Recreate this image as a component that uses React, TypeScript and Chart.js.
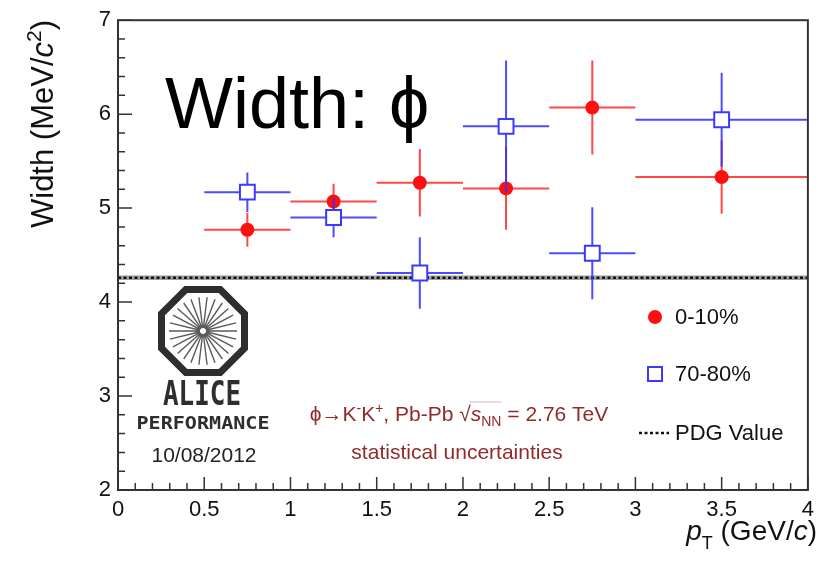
import React, { useEffect, useRef } from "react";
import { Chart, registerables } from "chart.js";

Chart.register(...registerables);

// ---------- data ----------
const binCenters = [0.75, 1.25, 1.75, 2.25, 2.75, 3.5];
const binHalfWidths = [0.25, 0.25, 0.25, 0.25, 0.25, 0.5];
const width0to10 = [4.77, 5.07, 5.27, 5.21, 6.07, 5.33];
const statErr0to10 = [0.18, 0.19, 0.36, 0.44, 0.5, 0.39];
const width70to80 = [5.17, 4.9, 4.31, 5.87, 4.52, 5.94];
const statErr70to80 = [0.21, 0.21, 0.38, 0.7, 0.49, 0.5];
const pdgWidth = 4.26;
const xRange = [0, 4];
const yRange = [2, 7];
const legendLabels = ["0-10%", "70-80%", "PDG Value"];

const SANS = '"Liberation Sans", Arial, Helvetica, sans-serif';
const RED = "#ff1010";
const RED_ERR = "rgba(255,45,45,0.88)";
const BLUE = "#3a3aff";
const BLUE_ERR = "rgba(50,50,255,0.88)";
const TEXT_RED = "#922a2a";

type Run = { text: string; font: string; dy?: number };

function runsWidth(ctx: CanvasRenderingContext2D, runs: Run[]) {
  let w = 0;
  for (const r of runs) {
    ctx.font = r.font;
    w += ctx.measureText(r.text).width;
  }
  return w;
}

function drawRuns(ctx: CanvasRenderingContext2D, runs: Run[], x: number, y: number) {
  let cx = x;
  ctx.textBaseline = "alphabetic";
  ctx.textAlign = "left";
  for (const r of runs) {
    ctx.font = r.font;
    ctx.fillText(r.text, cx, y + (r.dy || 0));
    cx += ctx.measureText(r.text).width;
  }
  return cx;
}

function drawFitted(ctx: CanvasRenderingContext2D, text: string, cx: number, cy: number, w: number, font: string) {
  ctx.save();
  ctx.font = font;
  const m = ctx.measureText(text).width;
  ctx.translate(cx, cy);
  ctx.scale(w / m, 1);
  ctx.textAlign = "center";
  ctx.textBaseline = "middle";
  ctx.fillText(text, 0, 0);
  ctx.restore();
}

const errorBarMap: Record<string, { xe: number[]; ye: number[]; color: string }> = {
  [legendLabels[0]]: { xe: binHalfWidths, ye: statErr0to10, color: RED_ERR },
  [legendLabels[1]]: { xe: binHalfWidths, ye: statErr70to80, color: BLUE_ERR },
};

const errorBarPlugin = {
  id: "errorBars",
  beforeDatasetDraw(chart: any, args: any) {
    const ds = chart.data.datasets[args.index];
    const eb = errorBarMap[ds.label];
    if (!eb) return;
    const { ctx, chartArea, scales } = chart;
    const x = scales.x;
    const y = scales.y;
    ctx.save();
    ctx.beginPath();
    ctx.rect(chartArea.left, chartArea.top, chartArea.right - chartArea.left, chartArea.bottom - chartArea.top);
    ctx.clip();
    ctx.strokeStyle = eb.color;
    ctx.lineWidth = 2;
    ctx.beginPath();
    ds.data.forEach((p: any, i: number) => {
      const px = x.getPixelForValue(p.x);
      const py = y.getPixelForValue(p.y);
      ctx.moveTo(x.getPixelForValue(p.x - eb.xe[i]), py);
      ctx.lineTo(x.getPixelForValue(p.x + eb.xe[i]), py);
      ctx.moveTo(px, y.getPixelForValue(p.y - eb.ye[i]));
      ctx.lineTo(px, y.getPixelForValue(p.y + eb.ye[i]));
    });
    ctx.stroke();
    ctx.restore();
  },
};

const decorPlugin = {
  id: "decor",
  afterDraw(chart: any) {
    const { ctx, chartArea: a, scales } = chart;
    const x = scales.x;
    const y = scales.y;
    ctx.save();

    // frame
    ctx.strokeStyle = "#333";
    ctx.lineWidth = 2;
    ctx.strokeRect(a.left, a.top, a.right - a.left, a.bottom - a.top);

    // inward ticks
    ctx.lineWidth = 1.5;
    ctx.beginPath();
    for (let i = 0; i <= (xRange[1] - xRange[0]) * 10; i++) {
      const v = xRange[0] + i * 0.1;
      const px = x.getPixelForValue(v);
      const major = i % 5 === 0;
      ctx.moveTo(px, a.bottom);
      ctx.lineTo(px, a.bottom - (major ? 13 : 7));
    }
    for (let i = 0; i <= (yRange[1] - yRange[0]) * 5; i++) {
      const v = yRange[0] + i * 0.2;
      const py = y.getPixelForValue(v);
      const major = i % 5 === 0;
      ctx.moveTo(a.left, py);
      ctx.lineTo(a.left + (major ? 14 : 7), py);
    }
    ctx.stroke();

    // big title in plot
    ctx.fillStyle = "#000";
    ctx.font = `72px ${SANS}`;
    ctx.textBaseline = "alphabetic";
    ctx.textAlign = "left";
    ctx.fillText("Width: \u03D5", 165, 128);

    // y axis title (rotated)
    ctx.save();
    ctx.translate(53, 124);
    ctx.rotate(-Math.PI / 2);
    ctx.fillStyle = "#111";
    const yRuns: Run[] = [
      { text: "Width (MeV/", font: `31px ${SANS}` },
      { text: "c", font: `italic 31px ${SANS}` },
      { text: "2", font: `21px ${SANS}`, dy: -12 },
      { text: ")", font: `31px ${SANS}` },
    ];
    const yw = runsWidth(ctx, yRuns);
    drawRuns(ctx, yRuns, -yw / 2, 0);
    ctx.restore();

    // x axis title
    ctx.fillStyle = "#111";
    const xRuns: Run[] = [
      { text: "p", font: `italic 28px ${SANS}` },
      { text: "T", font: `18px ${SANS}`, dy: 9 },
      { text: " (GeV/", font: `28px ${SANS}` },
      { text: "c", font: `italic 28px ${SANS}` },
      { text: ")", font: `28px ${SANS}` },
    ];
    const xw = runsWidth(ctx, xRuns);
    drawRuns(ctx, xRuns, 817 - xw, 540);

    // legend
    const lx = 655;
    ctx.fillStyle = RED;
    ctx.beginPath();
    ctx.arc(lx, 317, 7, 0, Math.PI * 2);
    ctx.fill();
    ctx.fillStyle = "#fff";
    ctx.fillRect(lx - 7, 367, 14, 14);
    ctx.strokeStyle = BLUE;
    ctx.lineWidth = 2;
    ctx.strokeRect(lx - 7, 367, 14, 14);
    ctx.strokeStyle = "#111";
    ctx.lineWidth = 2.5;
    ctx.setLineDash([3, 2.5]);
    ctx.beginPath();
    ctx.moveTo(639, 433);
    ctx.lineTo(669, 433);
    ctx.stroke();
    ctx.setLineDash([]);
    ctx.fillStyle = "#111";
    ctx.font = `22px ${SANS}`;
    ctx.textBaseline = "middle";
    ctx.fillText(legendLabels[0], 675, 318);
    ctx.fillText(legendLabels[1], 675, 375);
    ctx.fillText(legendLabels[2], 675, 434);

    // ALICE logo
    const cx = 203;
    const cy = 331;
    ctx.strokeStyle = "#5a5a5a";
    ctx.lineWidth = 1.4;
    ctx.beginPath();
    const nRays = 26;
    for (let i = 0; i < nRays; i++) {
      const ang = (i / nRays) * Math.PI * 2;
      ctx.moveTo(cx + Math.cos(ang) * 3, cy + Math.sin(ang) * 3);
      ctx.lineTo(cx + Math.cos(ang) * 34, cy + Math.sin(ang) * 34);
    }
    ctx.stroke();
    ctx.strokeStyle = "#2e2e2e";
    ctx.lineWidth = 7;
    ctx.lineJoin = "miter";
    ctx.beginPath();
    const R = 41.5 / Math.cos(Math.PI / 8);
    for (let i = 0; i < 8; i++) {
      const ang = Math.PI / 8 + (i * Math.PI) / 4;
      const px = cx + Math.cos(ang) * R;
      const py = cy + Math.sin(ang) * R;
      if (i === 0) ctx.moveTo(px, py);
      else ctx.lineTo(px, py);
    }
    ctx.closePath();
    ctx.stroke();
    ctx.fillStyle = "#2e2e2e";
    drawFitted(ctx, "ALICE", 202, 396, 78, `bold 34px "DejaVu Sans Mono", monospace`);
    drawFitted(ctx, "PERFORMANCE", 203, 425, 133, `bold 17px "DejaVu Sans Mono", monospace`);
    ctx.fillStyle = "#222";
    ctx.font = `21px ${SANS}`;
    ctx.textAlign = "center";
    ctx.textBaseline = "alphabetic";
    ctx.fillText("10/08/2012", 204, 462);

    // collision system text
    ctx.fillStyle = TEXT_RED;
    const f = `21px ${SANS}`;
    const sub = `14px ${SANS}`;
    const l1a: Run[] = [
      { text: "\u03D5\u2192K", font: f },
      { text: "-", font: sub, dy: -8 },
      { text: "K", font: f },
      { text: "+", font: sub, dy: -8 },
      { text: ", Pb-Pb ", font: f },
      { text: "\u221A", font: f },
    ];
    const l1b: Run[] = [
      { text: "s", font: `italic 21px ${SANS}` },
      { text: "NN", font: sub, dy: 5 },
    ];
    const l1c: Run[] = [{ text: " = 2.76 TeV", font: f }];
    const total = runsWidth(ctx, l1a) + runsWidth(ctx, l1b) + runsWidth(ctx, l1c);
    let sx = 459 - total / 2;
    sx = drawRuns(ctx, l1a, sx, 421);
    const sStart = sx;
    sx = drawRuns(ctx, l1b, sx, 421);
    ctx.strokeStyle = "rgba(146,42,42,0.35)";
    ctx.lineWidth = 1;
    ctx.beginPath();
    ctx.moveTo(sStart - 1, 402);
    ctx.lineTo(sx, 402);
    ctx.stroke();
    drawRuns(ctx, l1c, sx, 421);
    ctx.font = f;
    ctx.textAlign = "center";
    ctx.fillText("statistical uncertainties", 457, 459);

    ctx.restore();
  },
};

export default function App() {
  const ref = useRef<HTMLCanvasElement | null>(null);

  useEffect(() => {
    if (!ref.current) return;
    const chart = new Chart(ref.current, {
      type: "scatter",
      data: {
        datasets: [
          {
            label: legendLabels[1],
            data: binCenters.map((x, i) => ({ x, y: width70to80[i] })),
            pointStyle: "rect",
            pointRadius: 10.5,
            pointHoverRadius: 10.5,
            borderColor: BLUE,
            backgroundColor: "#ffffff",
            borderWidth: 2,
            order: 1,
          },
          {
            label: legendLabels[0],
            data: binCenters.map((x, i) => ({ x, y: width0to10[i] })),
            pointStyle: "circle",
            pointRadius: 7,
            pointHoverRadius: 7,
            borderColor: RED,
            backgroundColor: RED,
            borderWidth: 0,
            order: 2,
          },
          {
            type: "line",
            label: "pdg-band",
            data: xRange.map((x) => ({ x, y: pdgWidth })),
            borderColor: "#a0a0a0",
            borderWidth: 4.5,
            pointRadius: 0,
            order: 4,
          } as any,
          {
            type: "line",
            label: legendLabels[2],
            data: xRange.map((x) => ({ x, y: pdgWidth })),
            borderColor: "#111",
            borderWidth: 2.5,
            borderDash: [3, 2.5],
            pointRadius: 0,
            order: 3,
          } as any,
        ],
      },
      options: {
        animation: false,
        responsive: true,
        maintainAspectRatio: false,
        events: [],
        layout: { padding: { top: 20, right: 6, left: 0, bottom: 0 } },
        plugins: { legend: { display: false }, tooltip: { enabled: false } },
        scales: {
          x: {
            type: "linear",
            min: xRange[0],
            max: xRange[1],
            grid: { display: false, drawTicks: false },
            border: { display: false },
            ticks: {
              stepSize: 0.5,
              autoSkip: false,
              maxRotation: 0,
              padding: 7,
              color: "#111",
              font: { family: SANS, size: 22 },
              callback: (v: any) => String(Math.round(Number(v) * 10) / 10),
            },
            afterFit: (s: any) => {
              s.height = 72;
            },
          },
          y: {
            type: "linear",
            min: yRange[0],
            max: yRange[1],
            grid: { display: false, drawTicks: false },
            border: { display: false },
            ticks: {
              stepSize: 1,
              autoSkip: false,
              padding: 7,
              color: "#111",
              font: { family: SANS, size: 22 },
              callback: (v: any) => String(v),
            },
            afterFit: (s: any) => {
              s.width = 118;
            },
          },
        },
      },
      plugins: [errorBarPlugin, decorPlugin],
    });
    return () => chart.destroy();
  }, []);

  return (
    <div style={{ position: "absolute", left: 0, top: 0, width: 821, height: 562, background: "#fff" }}>
      <canvas ref={ref} />
    </div>
  );
}
